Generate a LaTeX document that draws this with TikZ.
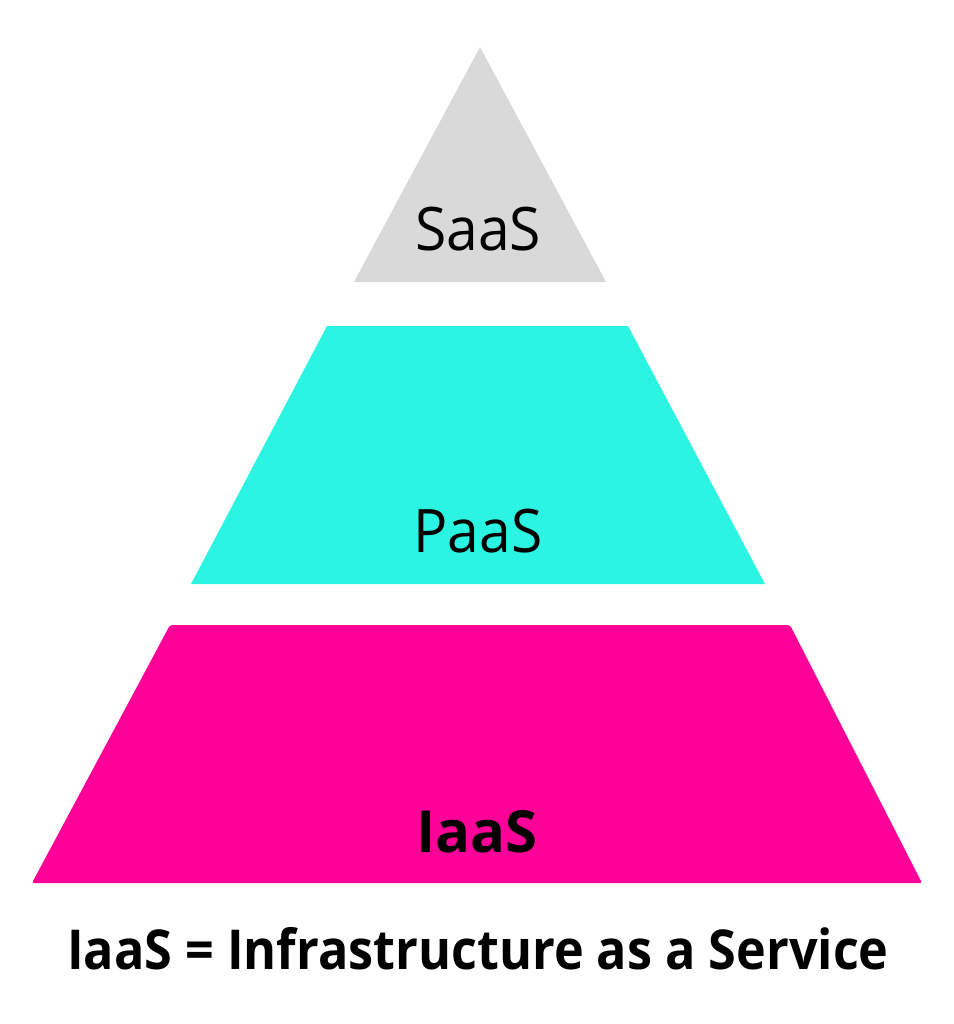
\documentclass[tikz,border=0pt]{standalone}
\usepackage{fontspec}
\setmainfont{Open Sans}
\newfontfamily\layerfont[FakeStretch=0.95]{Open Sans}
\newfontfamily\notefont[FakeStretch=0.915]{Open Sans}
\usepackage{tikz}
\definecolor{saasgray}{HTML}{D9D9D9}
\definecolor{paascyan}{HTML}{2CF4E2}
\definecolor{iaaspink}{HTML}{FF0099}
\tikzset{
  layer/.style={font=\layerfont\fontsize{60}{72}\selectfont, anchor=base},
  caption/.style={font=\notefont\fontsize{55}{66}\selectfont\bfseries, anchor=base}
}

\begin{document}
\begin{tikzpicture}[x=1pt, y=-1pt]
\useasboundingbox (0,0) rectangle (953,1024);
% pyramid layers, top to bottom
\fill[saasgray] (480,47) -- (606,282) -- (354,282) -- cycle;
\fill[paascyan] (327,326) -- (628,326) -- (765,584) -- (191,584) -- cycle;
\fill[iaaspink, rounded corners=2pt] (170,625) -- (790,625) -- (922,883) -- (32,883) -- cycle;
\node[layer] (saas) at (478,251) {SaaS};
\node[layer] (paas) at (478,552) {PaaS};
\node[layer, font=\fontsize{58}{70}\selectfont\bfseries] (iaas) at (477,852) {IaaS};
\node[caption] (note) at (478,969) {IaaS = Infrastructure as a Service};
\end{tikzpicture}
\end{document}
